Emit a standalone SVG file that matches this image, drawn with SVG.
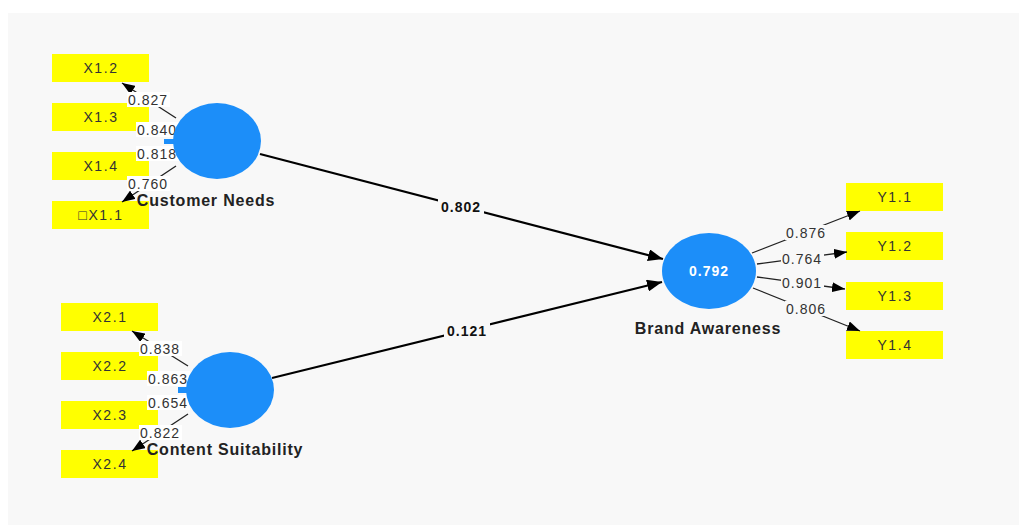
<svg xmlns="http://www.w3.org/2000/svg" width="1019" height="525" viewBox="0 0 1019 525">
  <defs>
    <marker id="ah" markerUnits="userSpaceOnUse" markerWidth="14" markerHeight="10" refX="13" refY="5" orient="auto">
      <path d="M0,0 L13,5 L0,10 z" fill="#000"/>
    </marker>
    <marker id="ahBig" markerUnits="userSpaceOnUse" markerWidth="16" markerHeight="12" refX="15" refY="6" orient="auto">
      <path d="M0,0 L15,6 L0,12 z" fill="#000"/>
    </marker>
    <style>
      .ind rect { fill: #ffff00; }
      .ind text { font-family: "Liberation Sans", Arial, sans-serif; font-size: 14px; letter-spacing: 1.6px; fill: #333; text-anchor: middle; }
      .lv { fill: #1c8ef9; }
      .lvname { font-family: "Liberation Sans", Arial, sans-serif; font-size: 16px; letter-spacing: 0.8px; font-weight: bold; fill: #222; text-anchor: middle; }
      .load { stroke: #222; stroke-width: 1.3; fill: none; marker-end: url(#ah); }
      .path { stroke: #000; stroke-width: 2.2; fill: none; marker-end: url(#ahBig); }
      .lbl rect { fill: #ffffff; }
      .lbl text, .rlbl text { font-family: "Liberation Sans", Arial, sans-serif; font-size: 14px; letter-spacing: 1px; fill: #333; text-anchor: middle; }
      .rlbl rect { fill: #f8f8f8; }
      .plbl rect { fill: #f8f8f8; }
      .plbl text { font-family: "Liberation Sans", Arial, sans-serif; font-size: 14px; letter-spacing: 1px; font-weight: bold; fill: #111; text-anchor: middle; }
    </style>
  </defs>

  <!-- canvas -->
  <rect x="0" y="0" width="1019" height="525" fill="#ffffff"/>
  <rect x="8" y="13" width="1011" height="512" fill="#f8f8f8"/>

  <!-- indicators: Customer Needs -->
  <g id="X1.2" class="ind"><rect x="52" y="54" width="97" height="28"/><text x="101" y="73">X1.2</text></g>
  <g id="X1.3" class="ind"><rect x="52" y="103" width="97" height="28"/><text x="101" y="122">X1.3</text></g>
  <g id="X1.4" class="ind"><rect x="52" y="152" width="97" height="28"/><text x="101" y="171">X1.4</text></g>
  <g id="X1.1" class="ind"><rect x="52" y="201" width="97" height="28"/><text x="101" y="220">□X1.1</text></g>

  <!-- indicators: Content Suitability -->
  <g id="X2.1" class="ind"><rect x="61" y="303" width="97" height="28"/><text x="110" y="322">X2.1</text></g>
  <g id="X2.2" class="ind"><rect x="61" y="352" width="97" height="28"/><text x="110" y="371">X2.2</text></g>
  <g id="X2.3" class="ind"><rect x="61" y="401" width="97" height="28"/><text x="110" y="420">X2.3</text></g>
  <g id="X2.4" class="ind"><rect x="61" y="450" width="97" height="28"/><text x="110" y="469">X2.4</text></g>

  <!-- indicators: Brand Awareness -->
  <g id="Y1.1" class="ind"><rect x="846" y="183" width="97" height="28"/><text x="895" y="202">Y1.1</text></g>
  <g id="Y1.2" class="ind"><rect x="846" y="232" width="97" height="28"/><text x="895" y="251">Y1.2</text></g>
  <g id="Y1.3" class="ind"><rect x="846" y="282" width="97" height="28"/><text x="895" y="301">Y1.3</text></g>
  <g id="Y1.4" class="ind"><rect x="846" y="331" width="97" height="28"/><text x="895" y="350">Y1.4</text></g>

  <!-- connectors -->
  <g id="connectors">
    <!-- outer loadings, Customer Needs -->
    <line class="load" x1="176" y1="118" x2="122" y2="83"/>
    <line class="load" x1="176" y1="166" x2="122" y2="202"/>
    <!-- outer loadings, Content Suitability -->
    <line class="load" x1="188" y1="366" x2="132" y2="331"/>
    <line class="load" x1="188" y1="414" x2="132" y2="451"/>
    <!-- outer loadings, Brand Awareness -->
    <line class="load" x1="752" y1="253" x2="860" y2="211"/>
    <line class="load" x1="757" y1="264" x2="847" y2="252"/>
    <line class="load" x1="757" y1="277" x2="845" y2="289"/>
    <line class="load" x1="753" y1="288" x2="860" y2="331"/>
    <!-- inner paths -->
    <line class="path" x1="260" y1="154" x2="663" y2="259"/>
    <line class="path" x1="272" y1="378" x2="662" y2="282"/>

    <!-- loading labels -->
    <g class="lbl"><rect x="127" y="92" width="43" height="15"/><text x="148" y="105">0.827</text></g>
    <g class="lbl"><rect x="136" y="122" width="43" height="15"/><text x="157" y="135">0.840</text></g>
    <g class="lbl"><rect x="136" y="146" width="43" height="15"/><text x="157" y="159">0.818</text></g>
    <g class="lbl"><rect x="127" y="176" width="43" height="15"/><text x="148" y="189">0.760</text></g>

    <g class="lbl"><rect x="139" y="341" width="43" height="15"/><text x="160" y="354">0.838</text></g>
    <g class="lbl"><rect x="147" y="371" width="43" height="15"/><text x="168" y="384">0.863</text></g>
    <g class="lbl"><rect x="147" y="395" width="43" height="15"/><text x="168" y="408">0.654</text></g>
    <g class="lbl"><rect x="139" y="425" width="43" height="15"/><text x="160" y="438">0.822</text></g>

    <g class="rlbl"><rect x="785" y="225" width="43" height="15"/><text x="806" y="238">0.876</text></g>
    <g class="rlbl"><rect x="781" y="251" width="43" height="15"/><text x="802" y="264">0.764</text></g>
    <g class="rlbl"><rect x="781" y="275" width="43" height="15"/><text x="802" y="288">0.901</text></g>
    <g class="rlbl"><rect x="785" y="301" width="43" height="15"/><text x="806" y="314">0.806</text></g>

    <!-- path coefficients -->
    <g class="plbl"><rect x="438" y="198" width="46" height="17"/><text x="461" y="212">0.802</text></g>
    <g class="plbl"><rect x="444" y="322" width="46" height="17"/><text x="467" y="336">0.121</text></g>
  </g>

  <!-- latent variables -->
  <g id="CustomerNeeds">
    <rect class="lv" x="164" y="139" width="14" height="5"/>
    <ellipse class="lv" cx="217" cy="141" rx="44" ry="38"/>
    <text class="lvname" x="206" y="206">Customer Needs</text>
  </g>
  <g id="ContentSuitability">
    <rect class="lv" x="178" y="387" width="12" height="6"/>
    <ellipse class="lv" cx="230" cy="390" rx="44" ry="38"/>
    <text class="lvname" x="225" y="455">Content Suitability</text>
  </g>
  <g id="BrandAwareness">
    <ellipse class="lv" cx="709" cy="271" rx="47" ry="38"/>
    <text x="709" y="276" font-family="Liberation Sans, Arial, sans-serif" font-size="14" letter-spacing="1" font-weight="bold" fill="#ffffff" text-anchor="middle">0.792</text>
    <text class="lvname" x="708" y="334">Brand Awareness</text>
  </g>
</svg>
